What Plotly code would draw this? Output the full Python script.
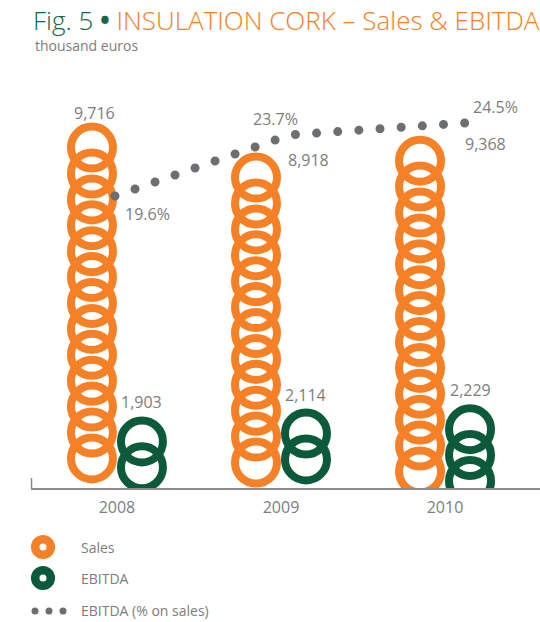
import plotly.graph_objects as go

# ---- data (thousand euros) ----
years = ["2008", "2009", "2010"]
sales = [9716, 8918, 9368]
ebitda = [1903, 2114, 2229]
ebitda_pct = [19.6, 23.7, 24.5]

sales_labels = ["9,716", "8,918", "9,368"]
ebitda_labels = ["1,903", "2,114", "2,229"]
pct_labels = ["19.6%", "23.7%", "24.5%"]

# ---- colours / fonts ----
ORANGE = "#F58025"
GREEN = "#0B5A3C"
TITLE_GREEN = "#15684B"
GREY_TXT = "#7D7D7D"
GREY_DOT = "#6D6E71"
AXIS_GREY = "#8C8C8C"
FONT = "Open Sans"

# ---- layout geometry (pixels) ----
W, H = 540, 622
PLOT_L, PLOT_R, PLOT_T, PLOT_B = 31, 540, 95, 488
PLOT_W = PLOT_R - PLOT_L
PLOT_H = PLOT_B - PLOT_T

X_RANGE = [-0.524, 2.579]          # category axis for the ring columns
X2_RANGE = [-0.48, 2.4286]         # overlay axis for the margin line
Y_MAX = 10450                      # thousand euros
Y2_MAX = PLOT_H / 14.9             # percent axis

x_ppu = PLOT_W / (X_RANGE[1] - X_RANGE[0])
y_ppu = PLOT_H / Y_MAX

RING_SIZE = 42        # marker diameter (px)
RING_WIDTH = 8        # stroke width (px)
RING_R = (RING_SIZE + RING_WIDTH) / 2
RING_STEP = 25.9      # vertical spacing between stacked rings (px)
RING_MIN = 5          # lowest ring centre above the baseline (px)
COL_OFFSET = RING_R / x_ppu


def ring_stack(value):
    """Centres of rings hanging down from the column top at `value`."""
    centres = []
    c = value - RING_R / y_ppu
    while c > RING_MIN / y_ppu:
        centres.append(c)
        c -= RING_STEP / y_ppu
    return centres


def px_x(px):
    return (px - PLOT_L) / PLOT_W


def px_y(py):
    return (PLOT_B - py) / PLOT_H


fig = go.Figure()

for i, (s, e) in enumerate(zip(sales, ebitda)):
    ys = ring_stack(s)
    fig.add_trace(go.Scatter(
        x=[i - COL_OFFSET] * len(ys), y=ys, mode="markers",
        marker=dict(symbol="circle-open", size=RING_SIZE, color=ORANGE,
                    line=dict(width=RING_WIDTH, color=ORANGE)),
        hoverinfo="skip", showlegend=False))
    ye = ring_stack(e)
    fig.add_trace(go.Scatter(
        x=[i + COL_OFFSET] * len(ye), y=ye, mode="markers",
        marker=dict(symbol="circle-open", size=RING_SIZE, color=GREEN,
                    line=dict(width=RING_WIDTH, color=GREEN)),
        hoverinfo="skip", showlegend=False))

# EBITDA margin as a dotted line on the percent axis
fig.add_trace(go.Scatter(
    x=list(range(len(years))), y=ebitda_pct, mode="lines",
    line=dict(color=GREY_DOT, width=9, dash="0px,21.2px"),
    xaxis="x2", yaxis="y2", hoverinfo="skip", showlegend=False))

ann = []
# value labels
sales_shift = [(3, 10), (53, -7), (65, -8)]
for i, (v, t) in enumerate(zip(sales, sales_labels)):
    dx, dy = sales_shift[i]
    ann.append(dict(x=i - COL_OFFSET, y=v, text=t, showarrow=False,
                    xanchor="center", yanchor="middle", xshift=dx, yshift=dy,
                    font=dict(size=16, color=GREY_TXT, family=FONT)))
for i, (v, t) in enumerate(zip(ebitda, ebitda_labels)):
    ann.append(dict(x=i + COL_OFFSET, y=v, text=t, showarrow=False,
                    xanchor="center", yanchor="middle", yshift=14,
                    font=dict(size=16, color=GREY_TXT, family=FONT)))
pct_shift = [(32, -18), (-15, 16), (30, 16)]
for i, (v, t) in enumerate(zip(ebitda_pct, pct_labels)):
    dx, dy = pct_shift[i]
    ann.append(dict(x=i, y=v, xref="x2", yref="y2", text=t, showarrow=False,
                    xanchor="center", yanchor="middle", xshift=dx, yshift=dy,
                    font=dict(size=16, color=GREY_TXT, family=FONT)))

# title and unit
ann.append(dict(xref="paper", yref="paper", x=px_x(31), y=px_y(20),
                xanchor="left", yanchor="middle", showarrow=False,
                text=(f"<span style='color:{TITLE_GREEN}'>Fig. 5 "
                      f"<span style='font-weight:700'>\u2022</span> </span>"
                      f"<span style='color:{ORANGE}'>INSULATION CORK \u2013 Sales &amp; EBITDA</span>"),
                font=dict(size=26, family=FONT, weight=300)))
ann.append(dict(xref="paper", yref="paper", x=px_x(33), y=px_y(45),
                xanchor="left", yanchor="middle", showarrow=False,
                text="thousand euros", font=dict(size=14, color=GREY_TXT, family=FONT)))

# legend text
legend_rows = [("Sales", 547), ("EBITDA", 578), ("EBITDA (% on sales)", 610)]
for txt, py in legend_rows:
    ann.append(dict(xref="paper", yref="paper", x=px_x(79), y=px_y(py),
                    xanchor="left", yanchor="middle", showarrow=False, text=txt,
                    font=dict(size=14, color=GREY_TXT, family=FONT)))

shapes = []
# legend ring icons
for col, py in [(ORANGE, 547), (GREEN, 578)]:
    shapes.append(dict(type="circle", xref="paper", yref="paper",
                       xsizemode="pixel", ysizemode="pixel",
                       xanchor=px_x(43), yanchor=px_y(py),
                       x0=-7.8, x1=7.8, y0=-7.8, y1=7.8,
                       line=dict(color=col, width=8.5), fillcolor="rgba(0,0,0,0)"))
# legend dots
for px in (35, 49, 63):
    shapes.append(dict(type="circle", xref="paper", yref="paper",
                       xsizemode="pixel", ysizemode="pixel",
                       xanchor=px_x(px), yanchor=px_y(611),
                       x0=-3.5, x1=3.5, y0=-3.5, y1=3.5,
                       line=dict(width=0), fillcolor=GREY_DOT))
# small tick at the left end of the baseline
shapes.append(dict(type="line", xref="paper", yref="paper",
                   x0=0.001, x1=0.001, y0=0, y1=10 / PLOT_H,
                   line=dict(color=AXIS_GREY, width=1.5)))

fig.update_layout(
    width=W, height=H,
    margin=dict(l=PLOT_L, r=W - PLOT_R, t=PLOT_T, b=H - PLOT_B, pad=0),
    paper_bgcolor="white", plot_bgcolor="white",
    font=dict(family=FONT, color=GREY_TXT),
    xaxis=dict(range=X_RANGE, tickmode="array", tickvals=list(range(len(years))),
               ticktext=years, showgrid=False, zeroline=False, showline=True,
               linecolor=AXIS_GREY, linewidth=2, ticks="", ticklen=0,
               ticklabelstandoff=4,
               tickfont=dict(size=16, color=GREY_TXT, family=FONT),
               fixedrange=True),
    xaxis2=dict(range=X2_RANGE, overlaying="x", visible=False, fixedrange=True),
    yaxis=dict(range=[0, Y_MAX], visible=False, fixedrange=True),
    yaxis2=dict(range=[0, Y2_MAX], overlaying="y", anchor="x2",
                visible=False, fixedrange=True),
    annotations=ann, shapes=shapes,
)
fig.data[-1].update(xaxis="x2", yaxis="y2")

round_caps = (
    "var s=document.createElement('style');"
    "s.textContent='.js-line{stroke-linecap:round !important;}';"
    "document.head.appendChild(s);"
)
fig.write_html("out.html", post_script=round_caps)
